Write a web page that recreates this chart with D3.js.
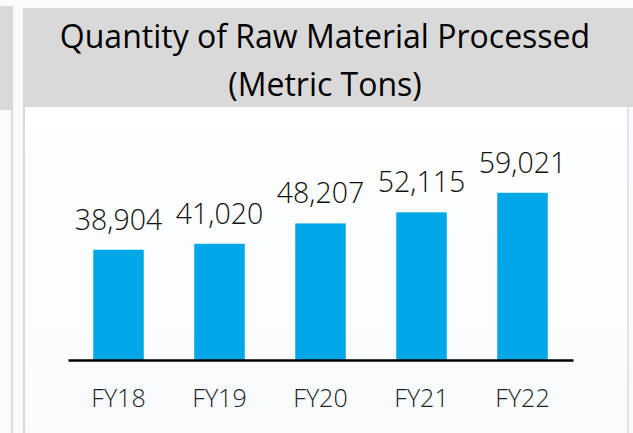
<!DOCTYPE html>
<html>
<head>
<meta charset="utf-8">
<script src="https://cdn.jsdelivr.net/npm/d3@7"></script>
<style>
    html, body { margin: 0; padding: 0; background: #f8fbfe; }
    svg { display: block; }
</style>
</head>
<body>
<div id="chart"></div>
<script>
// Raw material bar chart

const years = ["FY18", "FY19", "FY20", "FY21", "FY22"];
const tonnes = [38904, 41020, 48207, 52115, 59021];
const titleLines = ["Quantity of Raw Material Processed", "(Metric Tons)"];

const width = 633;
const height = 433;
const font = "'Open Sans', 'DejaVu Sans', sans-serif";

const svg = d3.select("#chart")
    .append("svg")
    .attr("width", width)
    .attr("height", height)
    .style("background", "#f8fbfe");

// Neighbouring panel peeking in from the left
svg.append("rect")
    .attr("x", 0).attr("y", 6)
    .attr("width", 13).attr("height", 104)
    .attr("fill", "#d9d9d9");
svg.append("line")
    .attr("x1", 12).attr("x2", 12)
    .attr("y1", 110).attr("y2", height)
    .attr("stroke", "#dcdcdc").attr("stroke-width", 2);

// Panel body with light gradient
const defs = svg.append("defs");
const grad = defs.append("linearGradient")
    .attr("id", "panelGrad")
    .attr("x1", 0).attr("y1", 0).attr("x2", 0).attr("y2", 1);
grad.append("stop").attr("offset", "0%").attr("stop-color", "#ffffff");
grad.append("stop").attr("offset", "100%").attr("stop-color", "#f8fbfe");

svg.append("rect")
    .attr("x", 24).attr("y", 107)
    .attr("width", 604).attr("height", height - 107)
    .attr("fill", "url(#panelGrad)");
svg.append("line")
    .attr("x1", 24).attr("x2", 24)
    .attr("y1", 107).attr("y2", height)
    .attr("stroke", "#d9d9d9").attr("stroke-width", 2);
svg.append("line")
    .attr("x1", 628).attr("x2", 628)
    .attr("y1", 107).attr("y2", height)
    .attr("stroke", "#e3e3e3").attr("stroke-width", 2);

// Header band + title
svg.append("rect")
    .attr("x", 23).attr("y", 8)
    .attr("width", width - 23).attr("height", 99)
    .attr("fill", "#d9d9d9");

svg.selectAll(".title")
    .data(titleLines)
    .enter()
    .append("text")
    .attr("class", "title")
    .attr("x", 325)
    .attr("y", (d, i) => 48 + i * 48)
    .attr("text-anchor", "middle")
    .style("font-family", font)
    .style("font-size", "32px")
    .style("fill", "#000")
    .text(d => d);

// Scales
const x = d3.scaleBand()
    .domain(years)
    .range([68, 573])
    .paddingInner(0.5)
    .paddingOuter(0.25);

const y = d3.scaleLinear()
    .domain([0, 60000])
    .range([360, 190]);

const data = years.map((yr, i) => ({ year: yr, value: tonnes[i] }));

svg.selectAll(".bar")
    .data(data)
    .enter()
    .append("rect")
    .attr("class", "bar")
    .attr("x", d => x(d.year))
    .attr("y", d => y(d.value))
    .attr("width", x.bandwidth())
    .attr("height", d => y(0) - y(d.value))
    .attr("fill", "#00a7e6");

// Value labels
svg.selectAll(".value")
    .data(data)
    .enter()
    .append("text")
    .attr("class", "value")
    .attr("x", d => x(d.year) + x.bandwidth() / 2)
    .attr("y", d => y(d.value) - 20)
    .attr("text-anchor", "middle")
    .style("font-family", font)
    .style("font-weight", 300)
    .style("font-size", "28.5px")
    .style("fill", "#111")
    .text(d => d3.format(",")(d.value));

// Baseline axis
const xAxis = svg.append("g")
    .attr("transform", `translate(0, ${y(0)})`)
    .call(d3.axisBottom(x).tickSize(0).tickPadding(29));

xAxis.select(".domain")
    .attr("stroke", "#000")
    .attr("stroke-width", 2.5);

xAxis.selectAll("text")
    .style("font-family", font)
    .style("font-weight", 300)
    .style("font-size", "25px")
    .style("fill", "#222");
</script>
</body>
</html>
